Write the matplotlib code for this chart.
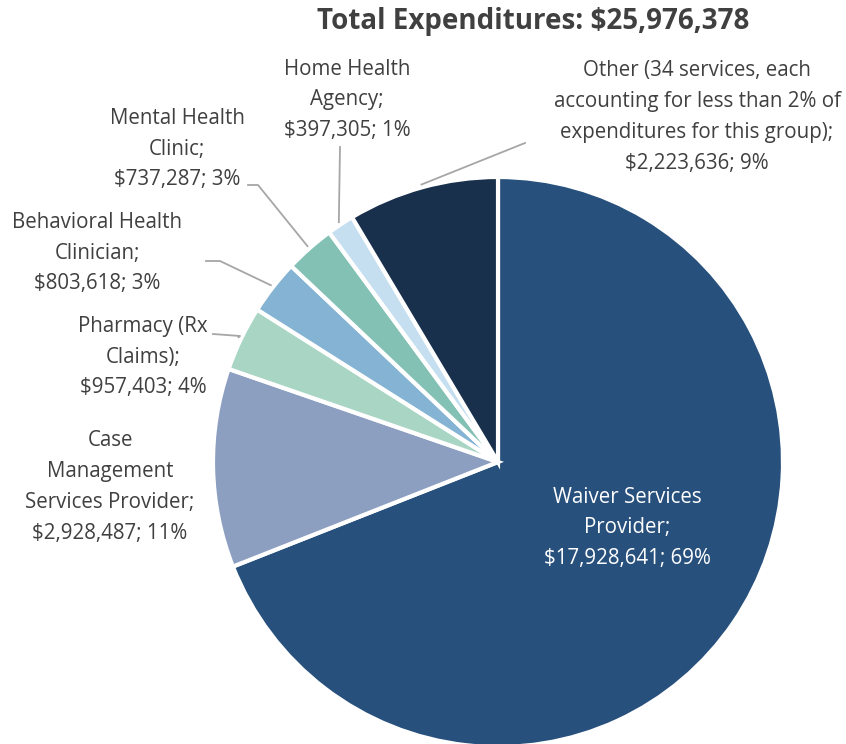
import matplotlib.pyplot as plt
import numpy as np

plt.rcParams['font.family'] = ['Open Sans', 'DejaVu Sans']

services = ['Waiver Services\nProvider', 'Case\nManagement\nServices Provider',
            'Pharmacy (Rx\nClaims)', 'Behavioral Health\nClinician',
            'Mental Health\nClinic', 'Home Health\nAgency',
            'Other (34 services, each\naccounting for less than 2% of\nexpenditures for this group)']
amounts = [17928641, 2928487, 957403, 803618, 737287, 397305, 2223636]
shares = [69, 11, 4, 3, 3, 1, 9]
colors = ['#27507c', '#8d9fc1', '#a9d5c5', '#84b3d3', '#83c1b4', '#c5dff1', '#19304d']
total = 25976378

W, H = 846, 744
fig = plt.figure(figsize=(W / 100, H / 100), dpi=100)
ax = fig.add_axes([0, 0, 1, 1])

cx, cy, R = 498, H - 462, 285
wedges, _ = ax.pie(amounts, colors=colors, startangle=90, counterclock=False,
                   center=(cx, cy), radius=R, frame=True,
                   wedgeprops=dict(edgecolor='white', linewidth=3))
for w in wedges:
    w.set_clip_on(False)
ax.set_xlim(0, W)
ax.set_ylim(0, H)
ax.set_aspect('equal')
ax.axis('off')

txt = '#404040'
fs = 14.8
# label centre (pixel coords from top) and leader path start points
label_pos = [(627, 528), (110, 487), (143, 357), (97, 253), (177, 149), (347, 100), (697, 117)]
leaders = [None, None, [(213, 334), (240, 336)], [(206, 261), (220, 261)],
           [(248, 185), (258, 185)], [(340, 147), (340, 147)], [(525, 143), (525, 143)]]

def fmt(i):
    return f"{services[i]};\n${amounts[i]:,}; {shares[i]}%"

for i, (x, y) in enumerate(label_pos):
    color = 'white' if i == 0 else txt
    ax.text(x, H - y, fmt(i), ha='center', va='center', fontsize=fs,
            color=color, linespacing=1.62)
    if leaders[i] is not None:
        # angle at middle of the wedge
        t1, t2 = wedges[i].theta1, wedges[i].theta2
        mid = np.deg2rad((t1 + t2) / 2)
        ex, ey = cx + R * 1.01 * np.cos(mid), cy + R * 1.01 * np.sin(mid)
        xs = [p[0] for p in leaders[i]] + [ex]
        ys = [H - p[1] for p in leaders[i]] + [ey]
        ax.plot(xs, ys, color='#a6a6a6', linewidth=1.3, clip_on=False)

ax.text(533, H - 21, f"Total Expenditures: ${total:,}", ha='center', va='center',
        fontsize=20, fontweight='bold', color=txt)

fig.savefig('out.png', dpi=100)
